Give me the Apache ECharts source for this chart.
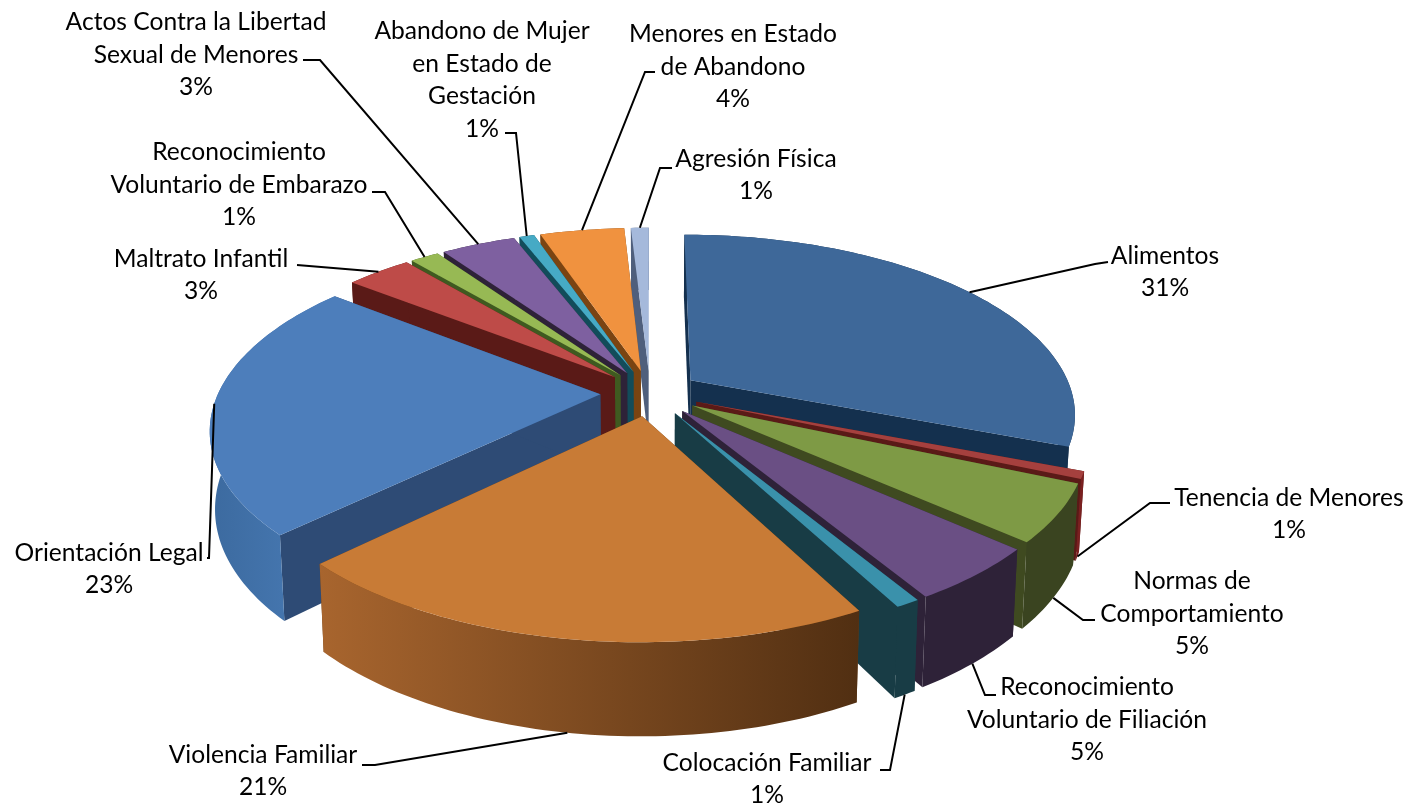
<!DOCTYPE html>
<html>
<head>
<meta charset="utf-8">
<title>Pie 3D</title>
<style>html,body{margin:0;padding:0;background:#fff}#chart{width:1411px;height:805px}</style>
<script src="https://cdn.jsdelivr.net/npm/echarts@6/dist/echarts.min.js"></script>
</head>
<body>
<div id="chart"></div>
<script>
// Slice names, as broken onto lines in the picture
var categories = [
    'Alimentos',
    'Tenencia de Menores',
    'Normas de\nComportamiento',
    'Reconocimiento\nVoluntario de Filiación',
    'Colocación Familiar',
    'Violencia Familiar',
    'Orientación Legal',
    'Maltrato Infantil',
    'Reconocimiento\nVoluntario de Embarazo',
    'Actos Contra la Libertad\nSexual de Menores',
    'Abandono de Mujer\nen Estado de\nGestación',
    'Menores en Estado\nde Abandono',
    'Agresión Física'
];
// Percent as printed on the labels
var percents = [31, 1, 5, 5, 1, 21, 23, 3, 1, 3, 1, 4, 1];
// Slice sizes
var values = [30.9, 0.65, 5.05, 4.8, 0.85, 20.45, 22.9, 3.3, 1.45, 3.75, 0.75, 4.25, 0.9];

// Colours: top of the slice, cut faces, outer wall left and right
var topColors = ['#3E6899', '#A5403E', '#7E9A45', '#6A4F84', '#3A91AB', '#C87B36', '#4D7EBB', '#BE4B48', '#97B954', '#7E60A0', '#46AAC5', '#F0923F', '#A5B9DB'];
var cutColors = ['#14304E', '#5A1A17', '#3F4A20', '#2E2238', '#183C45', '#6B3E14', '#2E4B75', '#5A1A17', '#3F5A20', '#2E2238', '#124C5A', '#7A4412', '#4F5F7C'];
var wallLeft = ['#14304E', '#7A2020', '#3A4420', '#2E2238', '#183C45', '#A8652E', '#3C6A9F', '#5A1A17', '#3F5A20', '#2E2238', '#124C5A', '#7A4412', '#4F5F7C'];
var wallRight = ['#14304E', '#7A2020', '#3A4420', '#2E2238', '#183C45', '#512F12', '#4A7DB8', '#5A1A17', '#3F5A20', '#2E2238', '#124C5A', '#7A4412', '#4F5F7C'];

// Label centre, the leader's start and elbow, and where it meets the slice
var labelLayout = [
    {x: 1165, y: 272, line: [[1108, 262], [1095, 264]], level: 0, along: 0.5},
    {x: 1289, y: 514, line: [[1170, 503], [1150, 503]], level: 1, along: 0.5},
    {x: 1192, y: 614, line: [[1095, 620], [1083, 620]], level: 1, along: 0.5},
    {x: 1087, y: 720, line: [[996, 695], [985, 695]], level: 1, along: 0.5},
    {x: 767, y: 779, line: [[880, 770], [890, 770]], level: 1, along: 0.5},
    {x: 263, y: 771, line: [[362, 765], [375, 765]], level: 1, along: 0.5},
    {x: 109, y: 569, line: [[207, 558], [209, 558]], level: 0, along: 0.5},
    {x: 201, y: 275, line: [[297, 265]], level: 0, along: 0.5},
    {x: 239, y: 185, line: [[372, 192], [385, 192]], level: 0, along: 0.5},
    {x: 196, y: 55, line: [[303, 60], [320, 60]], level: 0, along: 0.5},
    {x: 482, y: 80, line: [[505, 133], [516, 133]], level: 0, along: 0.5},
    {x: 733, y: 67, line: [[655, 72], [645, 72]], level: 0, along: 0.5},
    {x: 756, y: 175, line: [[672, 168], [660, 168]], level: 0, along: 0.5}
];

// Projection of the tilted disk
var cx = 650, cy = 393, radiusX = 382, radiusY = 176, perspective = 0.18;
var explode = 0.13, wallHeight = 75, wallShrink = 0.988;

var total = values.reduce(function (a, b) { return a + b; }, 0);
var slices = [];
var running = 0;
values.forEach(function (v) {
    var start = running / total * Math.PI * 2;
    running += v;
    var end = running / total * Math.PI * 2;
    slices.push({start: start, end: end, mid: (start + end) / 2});
});

// world point on the disk, angle clockwise from the back
function project(wx, wy, bottom) {
    var s = 1 / (1 + perspective * wy);
    if (bottom) {
        return [cx + wx * radiusX * s * wallShrink, cy - wy * radiusY * s + wallHeight * s];
    }
    return [cx + wx * radiusX * s, cy - wy * radiusY * s];
}

function slicePoint(slice, angle, r, bottom) {
    var ox = explode * Math.sin(slice.mid);
    var oy = explode * Math.cos(slice.mid);
    return project(ox + r * Math.sin(angle), oy + r * Math.cos(angle), bottom);
}

function arcPoints(slice, bottom) {
    var pts = [];
    var n = Math.max(4, Math.ceil((slice.end - slice.start) / 0.02));
    for (var i = 0; i <= n; i++) {
        pts.push(slicePoint(slice, slice.start + (slice.end - slice.start) * i / n, 1, bottom));
    }
    return pts;
}

function polygon(points, fill, z2) {
    return {type: 'polygon', shape: {points: points}, style: {fill: fill, stroke: null}, z2: z2};
}

// Back slices first, front slices last
var paintRank = [];
slices.map(function (s, i) { return {i: i, depth: Math.cos(s.mid)}; })
    .sort(function (a, b) { return b.depth - a.depth; })
    .forEach(function (o, rank) { paintRank[o.i] = rank; });

function renderSlice(params, api) {
    var i = params.dataIndex;
    var slice = slices[i];
    var z = paintRank[i] * 4 + 1;
    var apexTop = slicePoint(slice, 0, 0, false);
    var apexBottom = slicePoint(slice, 0, 0, true);
    var arcTop = arcPoints(slice, false);
    var arcBottom = arcPoints(slice, true);
    var children = [];

    // two cut faces
    children.push(polygon([apexTop, arcTop[0], arcBottom[0], apexBottom], cutColors[i], z));
    children.push(polygon([apexTop, arcTop[arcTop.length - 1], arcBottom[arcBottom.length - 1], apexBottom], cutColors[i], z));
    // outer wall
    children.push(polygon(arcTop.concat(arcBottom.slice().reverse()), {
        type: 'linear', x: 0, y: 0, x2: 1, y2: 0,
        colorStops: [{offset: 0, color: wallLeft[i]}, {offset: 1, color: wallRight[i]}]
    }, z + 1));
    // top
    children.push(polygon([apexTop].concat(arcTop), topColors[i], z + 2));

    // leader line, ending on the slice's arc
    var layout = labelLayout[i];
    var meet = slice.start + (slice.end - slice.start) * layout.along;
    var end = slicePoint(slice, meet, 1, layout.level === 1);
    children.push({
        type: 'polyline',
        shape: {points: layout.line.concat([end])},
        style: {fill: null, stroke: '#000', lineWidth: 2},
        z2: 100
    });
    // label
    children.push({
        type: 'text',
        style: {
            text: categories[i] + '\n' + percents[i] + '%',
            x: layout.x,
            y: layout.y,
            align: 'center',
            verticalAlign: 'middle',
            fontFamily: 'Lato',
            fontSize: 24.6,
            lineHeight: 32.5,
            fill: '#000'
        },
        z2: 101
    });
    return {type: 'group', children: children};
}

var dom = document.getElementById('chart');
var myChart = echarts.init(dom);
var option = {
    animation: false,
    backgroundColor: '#fff',
    series: [{
        type: 'custom',
        coordinateSystem: 'none',
        renderItem: renderSlice,
        silent: true,
        data: values.map(function (v) { return [v]; })
    }]
};
myChart.setOption(option);
</script>
</body>
</html>
